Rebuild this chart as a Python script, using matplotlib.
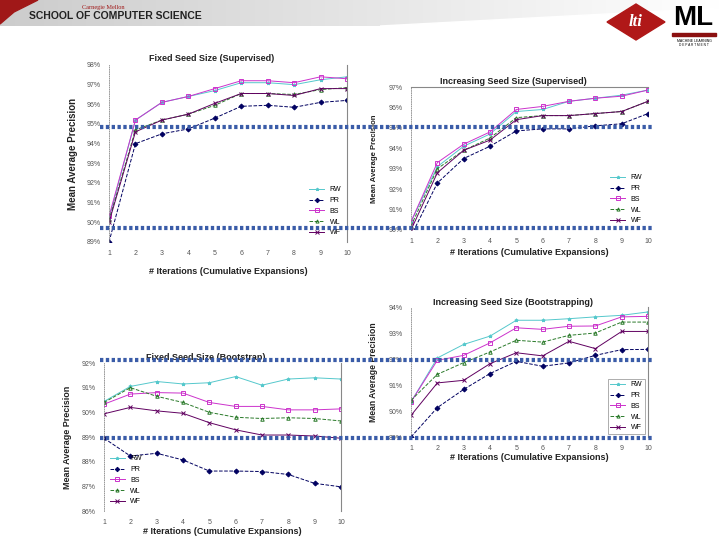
import numpy as np
import matplotlib
matplotlib.use("Agg")
import matplotlib.pyplot as plt
from matplotlib.patches import Polygon, Rectangle

plt.rcParams['font.family'] = ['Liberation Sans', 'DejaVu Sans']

iterations = list(range(1, 11))
series_names = ["RW", "PR", "BS", "WL", "WF"]

# Fixed Seed Size (Supervised)
fs_sup_rw = [90.2, 95.2, 96.1, 96.4, 96.7, 97.1, 97.1, 97.0, 97.25, 97.4]
fs_sup_pr = [89.0, 94.0, 94.5, 94.75, 95.3, 95.9, 95.95, 95.85, 96.1, 96.2]
fs_sup_bs = [90.3, 95.2, 96.1, 96.4, 96.8, 97.2, 97.2, 97.1, 97.4, 97.3]
fs_sup_wl = [90.1, 94.7, 95.2, 95.5, 95.95, 96.55, 96.55, 96.5, 96.75, 96.85]
fs_sup_wf = [90.0, 94.6, 95.2, 95.5, 96.05, 96.55, 96.55, 96.45, 96.8, 96.8]

# Increasing Seed Size (Supervised)
is_sup_rw = [90.4, 93.1, 94.1, 94.7, 95.8, 95.9, 96.3, 96.45, 96.6, 96.85]
is_sup_pr = [89.7, 92.3, 93.5, 94.1, 94.85, 94.95, 94.95, 95.1, 95.2, 95.7]
is_sup_bs = [90.4, 93.3, 94.2, 94.8, 95.9, 96.05, 96.3, 96.45, 96.55, 96.85]
is_sup_wl = [90.2, 93.0, 93.9, 94.5, 95.5, 95.6, 95.6, 95.7, 95.8, 96.3]
is_sup_wf = [90.0, 92.8, 93.9, 94.4, 95.4, 95.6, 95.6, 95.7, 95.8, 96.3]

# Fixed Seed Size (Bootstrap)
fs_boot_rw = [90.44, 91.05, 91.25, 91.15, 91.2, 91.45, 91.1, 91.35, 91.4, 91.35]
fs_boot_pr = [88.95, 88.23, 88.34, 88.07, 87.62, 87.62, 87.6, 87.48, 87.12, 86.98]
fs_boot_bs = [90.33, 90.74, 90.8, 90.78, 90.4, 90.24, 90.24, 90.1, 90.1, 90.14]
fs_boot_wl = [90.4, 91.0, 90.65, 90.4, 90.0, 89.8, 89.75, 89.78, 89.75, 89.65]
fs_boot_wf = [89.94, 90.2, 90.06, 89.96, 89.58, 89.29, 89.08, 89.08, 89.04, 88.95]

# Increasing Seed Size (Bootstrapping)
is_boot_rw = [90.35, 92.04, 92.56, 92.88, 93.49, 93.49, 93.55, 93.62, 93.68, 93.81]
is_boot_pr = [89.0, 90.13, 90.83, 91.44, 91.91, 91.72, 91.85, 92.14, 92.36, 92.37]
is_boot_bs = [90.35, 91.95, 92.14, 92.62, 93.2, 93.14, 93.26, 93.27, 93.62, 93.64]
is_boot_wl = [90.41, 91.41, 91.86, 92.27, 92.72, 92.65, 92.91, 93.0, 93.42, 93.42]
is_boot_wf = [89.83, 91.08, 91.18, 91.82, 92.24, 92.12, 92.68, 92.4, 93.06, 93.06]

colors = ["#55c8cc", "#000060", "#cc33cc", "#2a7a2a", "#600060"]
styles = ["-", "--", "-", "--", "-"]
markers = ["*", "D", "s", "^", "x"]

fig = plt.figure(figsize=(7.2, 5.4), dpi=100)

# ---- header band ----
hdr = fig.add_axes([0, 1 - 26 / 540, 1, 26 / 540])
grad = np.linspace(0.80, 1.0, 256).reshape(1, -1)
hdr.imshow(np.dstack([grad, grad, grad]), aspect="auto", extent=[0, 720, 26, 0])
hdr.add_patch(Polygon([[0, 0], [38, 0], [14, 12], [0, 24]], color="#a01818"))
hdr.add_patch(Polygon([[380, 26], [720, 8], [720, 26]], color="white"))
hdr.set_xlim(0, 720)
hdr.set_ylim(26, 0)
hdr.axis("off")
fig.text(125 / 720, 1 - 7 / 540, "Carnegie Mellon", color="#a01818", fontsize=4.5,
         family="Liberation Serif", ha="right", va="center")
fig.text(29 / 720, 1 - 16 / 540, "SCHOOL OF COMPUTER SCIENCE", fontsize=7.5,
         weight="bold", ha="left", va="center", color="#222222")

# logos
logo = fig.add_axes([600 / 720, 1 - 60 / 540, 120 / 720, 60 / 540])
logo.set_xlim(600, 720)
logo.set_ylim(60, 0)
logo.axis("off")
logo.add_patch(Polygon([[607, 22], [636, 4], [665, 22], [636, 40]], color="#b01818"))
logo.text(636, 22, "lti", color="white", fontsize=12, style="italic",
          weight="bold", family="Liberation Serif", ha="center", va="center")
logo.text(693, 18, "ML", color="black", fontsize=20, weight="bold", ha="center", va="center")
logo.add_patch(Rectangle((672, 33), 44, 3, color="#8b1010"))
logo.text(694, 41, "MACHINE LEARNING", fontsize=2.5, ha="center", va="center")
logo.text(694, 45, "D E P A R T M E N T", fontsize=2.3, ha="center", va="center")


def panel(rect, title, data, ylim, legend_loc, spines, ylab_size, xlab_y, ylab_x, boxed):
    ax = fig.add_axes(rect)
    for vals, name, c, ls, m in zip(data, series_names, colors, styles, markers):
        ax.plot(iterations, vals, color=c, ls=ls, lw=0.7, marker=m, ms=2.5,
                mfc="none" if m in ("s", "^", "o") else c, mew=0.7, label=name)
    ax.set_xlim(1, 10)
    ax.set_ylim(*ylim)
    ax.set_xticks(iterations)
    yt = np.arange(ylim[0], ylim[1] + 1)
    ax.set_yticks(yt)
    ax.set_yticklabels([f"{v:.0f}%" for v in yt])
    ax.tick_params(length=0, labelsize=5, colors="#555555", pad=6)
    for s in ["top", "right", "bottom", "left"]:
        ax.spines[s].set_visible(s in spines)
    ax.spines["left"].set_visible(True)
    ax.spines["left"].set_linestyle(":")
    ax.spines["left"].set_color("#888888")
    ax.spines["left"].set_linewidth(0.6)
    for s in ["top", "right"]:
        ax.spines[s].set_color("#888888")
        ax.spines[s].set_linewidth(0.8)
    ax.text(0.43, 1.035, title, transform=ax.transAxes, ha="center", va="center",
            fontsize=6.5, weight="bold", color="#222222")
    ax.set_xlabel("# Iterations (Cumulative Expansions)", fontsize=6.5, weight="bold",
                  color="#222222")
    ax.xaxis.set_label_coords(0.5, xlab_y)
    ax.set_ylabel("Mean Average Precision", fontsize=ylab_size, weight="bold", color="#222222")
    ax.yaxis.set_label_coords(ylab_x, 0.5)
    leg = ax.legend(loc=legend_loc, fontsize=5, frameon=boxed, handlelength=2.2,
                    labelspacing=0.55, borderpad=0.3, fancybox=False, edgecolor="#888888",
                    markerscale=0.9)
    leg.get_frame().set_linewidth(0.6)
    return ax


panel([109 / 720, 1 - 242 / 540, 238 / 720, 177 / 540], "Fixed Seed Size (Supervised)",
      [fs_sup_rw, fs_sup_pr, fs_sup_bs, fs_sup_wl, fs_sup_wf], (89, 98),
      "lower right", ["right"], 7, -0.14, -0.13, False)
panel([411 / 720, 1 - 230 / 540, 237 / 720, 143 / 540], "Increasing Seed Size (Supervised)",
      [is_sup_rw, is_sup_pr, is_sup_bs, is_sup_wl, is_sup_wf], (90, 97),
      "lower right", ["top"], 5.6, -0.125, -0.14, False)
panel([104 / 720, 1 - 511 / 540, 237 / 720, 148 / 540], "Fixed Seed Size (Bootstrap)",
      [fs_boot_rw, fs_boot_pr, fs_boot_bs, fs_boot_wl, fs_boot_wf], (86, 92),
      "lower left", ["right"], 6.5, -0.11, -0.135, False)
panel([411 / 720, 1 - 437 / 540, 237 / 720, 130 / 540], "Increasing Seed Size (Bootstrapping)",
      [is_boot_rw, is_boot_pr, is_boot_bs, is_boot_wl, is_boot_wf], (89, 94),
      "lower right", ["right"], 6.2, -0.125, -0.14, True)

# blue dotted guide lines across the slide
over = fig.add_axes([0, 0, 1, 1], facecolor="none")
over.set_xlim(0, 720)
over.set_ylim(540, 0)
over.axis("off")
for yy in [127, 228, 360, 438]:
    over.plot([100, 652], [yy, yy], color="#3a5ca8", lw=3, ls=(0, (0.8, 0.6)),
              solid_capstyle="butt")

fig.savefig("out.png", dpi=100)
